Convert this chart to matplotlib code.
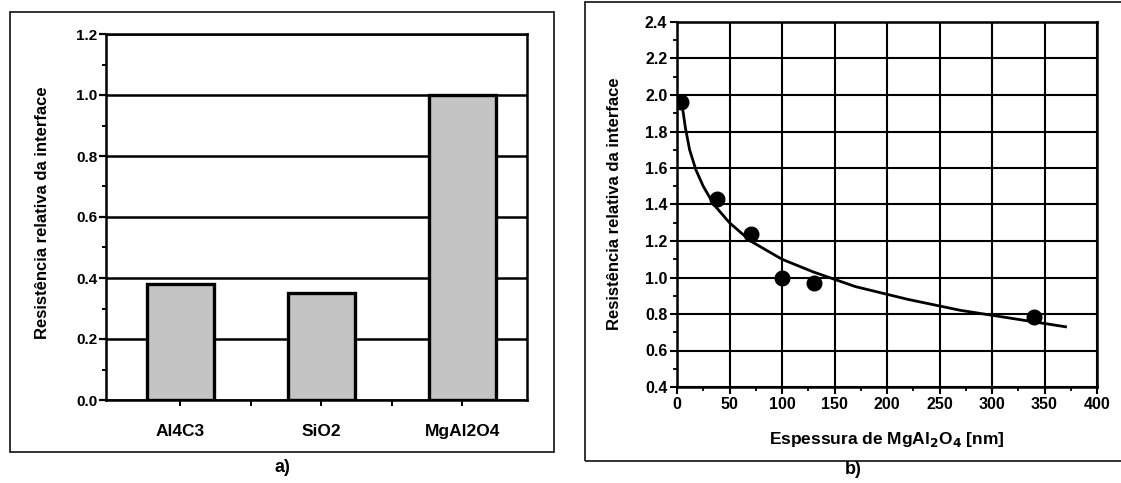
import matplotlib
matplotlib.use("Agg")
import matplotlib.pyplot as plt
from matplotlib.patches import Rectangle
from matplotlib.ticker import MultipleLocator, FormatStrFormatter, FixedLocator

plt.rcParams['font.family'] = ['Liberation Sans', 'DejaVu Sans']
plt.rcParams['font.weight'] = 'bold'

# ---- data: panel a ----
materials = ["Al4C3", "SiO2", "MgAl2O4"]
rel_resistance = [0.38, 0.35, 1.00]

# ---- data: panel b ----
thickness_nm = [4, 38, 70, 100, 130, 340]
rel_res_b = [1.96, 1.43, 1.24, 1.00, 0.97, 0.785]
# fitted curve, values
curve_x = [4, 6, 8, 12, 18, 25, 35, 50, 70, 100, 130, 170, 220, 270, 320, 370]
curve_y = [1.97, 1.90, 1.82, 1.70, 1.59, 1.50, 1.40, 1.30, 1.20, 1.10, 1.03, 0.95, 0.88, 0.82, 0.775, 0.73]

W, H = 1121, 483
fig = plt.figure(figsize=(W / 100, H / 100), dpi=100)
fig.patch.set_facecolor('white')

def fr(x0, y0, x1, y1):
    return [x0 / W, 1 - y1 / H, (x1 - x0) / W, (y1 - y0) / H]

# outer frames
for (x0, y0, x1, y1) in [(10, 12, 554, 452), (585, 2, 1130, 461)]:
    fig.add_artist(Rectangle((x0 / W, 1 - y1 / H), (x1 - x0) / W, (y1 - y0) / H,
                             transform=fig.transFigure, fill=False, lw=1.3,
                             edgecolor='#222222'))

# ---------------- panel a ----------------
ax1 = fig.add_axes(fr(106, 34, 527, 400))
xs = list(range(len(materials)))
ax1.bar(xs, rel_resistance, width=0.475, color='#c4c4c4', edgecolor='black',
        linewidth=2.4, zorder=3)
ax1.set_xlim(-0.525, 2.46)
ax1.set_ylim(0, 1.2)
ax1.yaxis.set_major_locator(MultipleLocator(0.2))
ax1.yaxis.set_minor_locator(MultipleLocator(0.1))
ax1.yaxis.set_major_formatter(FormatStrFormatter('%.1f'))
ax1.set_xticks(xs)
ax1.set_xticklabels(materials, fontsize=12.5, fontweight='bold')
ax1.xaxis.set_minor_locator(FixedLocator([0.5, 1.5]))
ax1.grid(axis='y', color='black', lw=1.8, zorder=1)
ax1.set_axisbelow(True)
for s in ax1.spines.values():
    s.set_linewidth(1.8)
ax1.tick_params(axis='y', which='major', direction='out', length=5, width=1.6,
                labelsize=11, pad=1)
ax1.tick_params(axis='y', which='minor', direction='out', length=3, width=1.4)
ax1.tick_params(axis='x', which='both', direction='out', length=4, width=1.4,
                pad=13)
for lab in ax1.get_yticklabels():
    lab.set_fontweight('bold')
ax1.set_ylabel("Resistência relativa da interface", fontsize=12, fontweight='bold')
ax1.yaxis.set_label_coords(-0.133, 0.511)

fig.text(282 / W, 1 - 467 / H, "a)", ha='center', va='center', fontsize=13,
         fontweight='bold')

# ---------------- panel b ----------------
ax2 = fig.add_axes(fr(677, 22, 1097, 387))
ax2.plot(curve_x, curve_y, color='black', lw=2.0, zorder=3)
ax2.plot(thickness_nm, rel_res_b, 'o', color='black', markersize=10.5, zorder=4)
ax2.set_xlim(0, 400)
ax2.set_ylim(0.4, 2.4)
ax2.xaxis.set_major_locator(MultipleLocator(50))
ax2.xaxis.set_minor_locator(MultipleLocator(25))
ax2.yaxis.set_major_locator(MultipleLocator(0.2))
ax2.yaxis.set_minor_locator(MultipleLocator(0.1))
ax2.yaxis.set_major_formatter(FormatStrFormatter('%.1f'))
ax2.grid(which='major', color='black', lw=1.5, zorder=1)
ax2.set_axisbelow(True)
for s in ax2.spines.values():
    s.set_linewidth(1.8)
ax2.tick_params(which='major', direction='out', length=5, width=1.5,
                labelsize=11.5, pad=2)
ax2.tick_params(which='minor', direction='out', length=3, width=1.3)
for lab in ax2.get_xticklabels() + ax2.get_yticklabels():
    lab.set_fontweight('bold')
ax2.set_ylabel("Resistência relativa da interface", fontsize=12, fontweight='bold')
ax2.yaxis.set_label_coords(-0.131, 0.501)
ax2.set_xlabel("Espessura de MgAl$_\\mathbf{2}$O$_\\mathbf{4}$ [nm]", fontsize=12.5,
               fontweight='bold')
ax2.xaxis.set_label_coords(0.5, -0.118)

fig.text(853 / W, 1 - 470 / H, "b)", ha='center', va='center', fontsize=13,
         fontweight='bold')

fig.savefig("out.png", dpi=100, facecolor='white')
